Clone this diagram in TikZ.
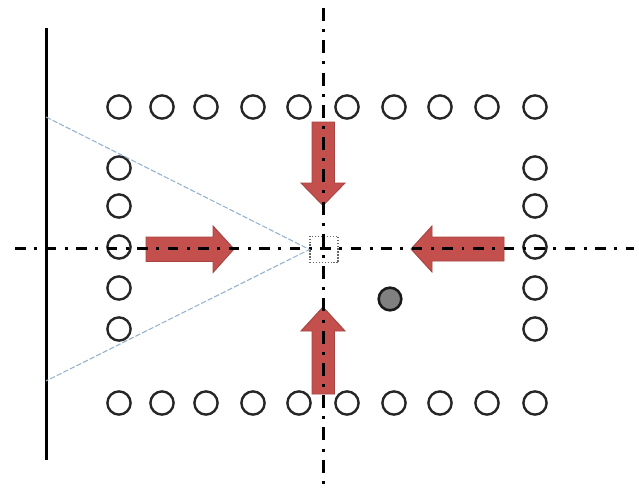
\documentclass[tikz,border=0pt]{standalone}
\definecolor{arrowred}{RGB}{196,80,78}
\definecolor{arrowedge}{RGB}{165,68,66}
\definecolor{rayblue}{RGB}{150,178,205}
\definecolor{ballgray}{RGB}{128,128,128}
\tikzset{
  mic/.style={circle,draw=black!85,line width=1.8pt,minimum size=17.4pt,inner sep=0pt,fill=none},
  ball/.style={circle,draw=black!90,line width=1.9pt,minimum size=17pt,inner sep=0pt,fill=ballgray},
  axish/.style={black,line width=2.3pt,dash pattern=on 7.9pt off 6.4pt on 2.2pt off 6.4pt},
  axisv/.style={black,line width=2.3pt,dash pattern=on 9.75pt off 6.1pt on 2.25pt off 6.1pt},
  wallline/.style={black,line width=2.3pt},
  rayline/.style={rayblue,line width=0.8pt,dash pattern=on 4pt off 1.5pt},
  redarrow/.style={fill=arrowred,draw=arrowedge,line width=0.7pt,line join=miter},
  targetbox/.style={draw=black!60,line width=0.8pt,dash pattern=on 1pt off 1.2pt,minimum width=21pt,minimum height=20pt,inner sep=0pt}
}
\begin{document}
\begin{tikzpicture}[x=0.75pt,y=-0.75pt]
\useasboundingbox (0,0) rectangle (639,489);
% circles
\foreach \i/\x in {1/119,2/162,3/206,4/253,5/299,6/347,7/394,8/440,9/487,10/535}{
  \node[mic] (t\i) at (\x,107) {};
  \node[mic] (b\i) at (\x,403) {};
}
\foreach \i/\y in {1/168,2/206,3/247,4/288,5/329}{
  \node[mic] (l\i) at (119,\y) {};
  \node[mic] (r\i) at (535,\y) {};
}
\node[ball] (source) at (390,299) {};
% red arrows
\draw[redarrow] (146,237) -- (213,237) -- (213,226) -- (234,249) -- (213,272.5) -- (213,261.5) -- (146,261.5) -- cycle;
\draw[redarrow] (504,237) -- (432,237) -- (432,226) -- (411,249) -- (432,272) -- (432,261) -- (504,261) -- cycle;
\draw[redarrow] (312,122) -- (312,183) -- (301,183) -- (323,205.5) -- (345,183) -- (334.5,183) -- (334.5,122) -- cycle;
\draw[redarrow] (312,394) -- (312,331) -- (301,331) -- (323,307) -- (345,331) -- (334.5,331) -- (334.5,394) -- cycle;
% target box
\node[targetbox] (target) at (324,249.5) {};
% wall and axes
\coordinate (wallTop) at (46.4,28);
\coordinate (wallBottom) at (46.4,460);
\coordinate (hStart) at (15,248.5);
\coordinate (hEnd) at (634,248.5);
\coordinate (vStart) at (323.6,8);
\coordinate (vEnd) at (323.6,489);
\coordinate (rayTop) at (46,117);
\coordinate (rayBottom) at (46,381);
\draw[wallline] (wallTop) -- (wallBottom);
\draw[axish] (hStart) -- (hEnd);
\draw[axisv] (vStart) -- (vEnd);
\draw[rayline] (rayTop) -- (target.west) -- (rayBottom);
\end{tikzpicture}
\end{document}
